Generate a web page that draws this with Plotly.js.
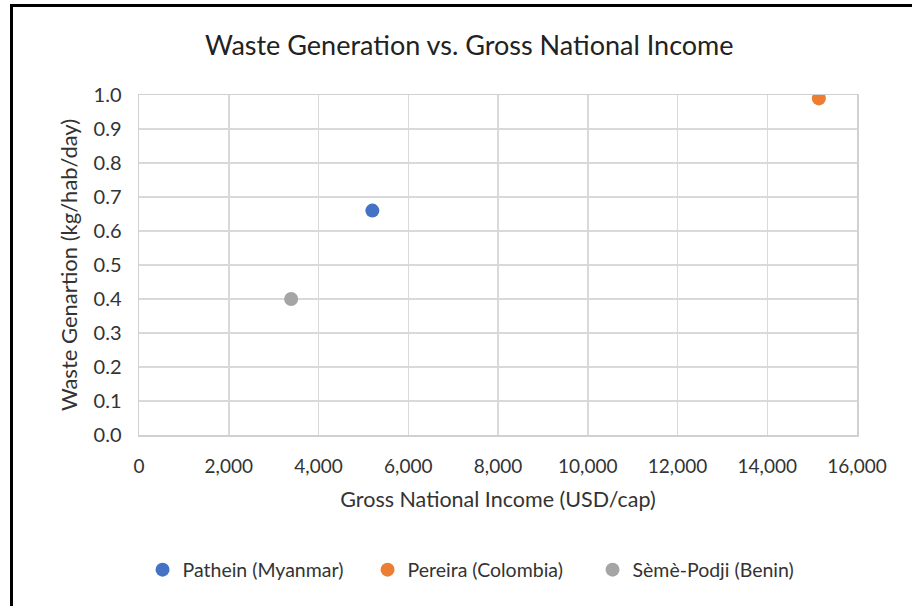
<!DOCTYPE html>
<html>
<head>
<meta charset="utf-8">
<script src="https://cdn.plot.ly/plotly-3.0.1.min.js"></script>
<style>
  html, body { margin: 0; padding: 0; background: #fff; }
  #wrap { position: relative; width: 912px; height: 606px; overflow: hidden; }
  #chart { position: absolute; left: 0; top: 0; width: 912px; height: 606px; }
  #frame { position: absolute; left: 10px; top: 4px; width: 910px; height: 610px;
           border-left: 3px solid #000; border-top: 3px solid #000; pointer-events: none; }
</style>
</head>
<body>
<div id="wrap">
  <div id="chart"></div>
  <div id="frame"></div>
</div>
<script>
const seriesNames = ["Pathein (Myanmar)", "Pereira (Colombia)", "Sèmè-Podji (Benin)"];
const gniValues = [5200, 15150, 3390];
const wasteValues = [0.66, 0.99, 0.40];
const seriesColors = ["#4472C4", "#ED7D31", "#A5A5A5"];

const fontFam = "Lato, 'Open Sans', sans-serif";
const traces = seriesNames.map((n, i) => ({
  type: "scatter",
  mode: "markers",
  name: n,
  x: [gniValues[i]],
  y: [wasteValues[i]],
  marker: { color: seriesColors[i], size: 14 }
}));

const layout = {
  width: 912, height: 606,
  margin: { l: 139, r: 55, t: 95, b: 171 },
  paper_bgcolor: "#fff", plot_bgcolor: "#fff",
  font: { family: fontFam, color: "#333", size: 19 },
  title: { text: "Waste Generation vs. Gross National Income", font: { size: 27, color: "#222", family: fontFam },
           x: 0.46, xanchor: "center", xref: "paper", y: 0.925, yref: "container", yanchor: "middle" },
  xaxis: {
    range: [0, 16000], dtick: 2000, tickformat: ",d",
    showgrid: true, gridcolor: "#d9d9d9", gridwidth: 1.5,
    zeroline: false, showline: true, linecolor: "#d0d0d0", linewidth: 1.5, mirror: true,
    ticks: "", ticklabelstandoff: 14,
    tickfont: { size: 19, color: "#333" },
    title: { text: "Gross National Income (USD/cap)", font: { size: 21.5, color: "#333" }, standoff: 15 },
    fixedrange: true
  },
  yaxis: {
    range: [0, 1.0], dtick: 0.1, tickformat: ".1f",
    showgrid: true, gridcolor: "#d9d9d9", gridwidth: 1.5,
    zeroline: false, showline: true, linecolor: "#d0d0d0", linewidth: 1.5, mirror: true,
    ticks: "", ticklabelstandoff: 12,
    tickfont: { size: 20, color: "#333" },
    title: { text: "Waste Genartion (kg/hab/day)", font: { size: 22, color: "#333" }, standoff: 10 },
    fixedrange: true
  },
  showlegend: true,
  legend: {
    orientation: "h", x: 0.475, xanchor: "center", y: -0.397, yanchor: "middle",
    font: { size: 19.5, color: "#333" }, itemwidth: 30, tracegroupgap: 0,
    entrywidth: 180, entrywidthmode: "pixels",
    bgcolor: "rgba(0,0,0,0)"
  }
};

Plotly.newPlot("chart", traces, layout, { staticPlot: true, displayModeBar: false });
</script>
</body>
</html>
